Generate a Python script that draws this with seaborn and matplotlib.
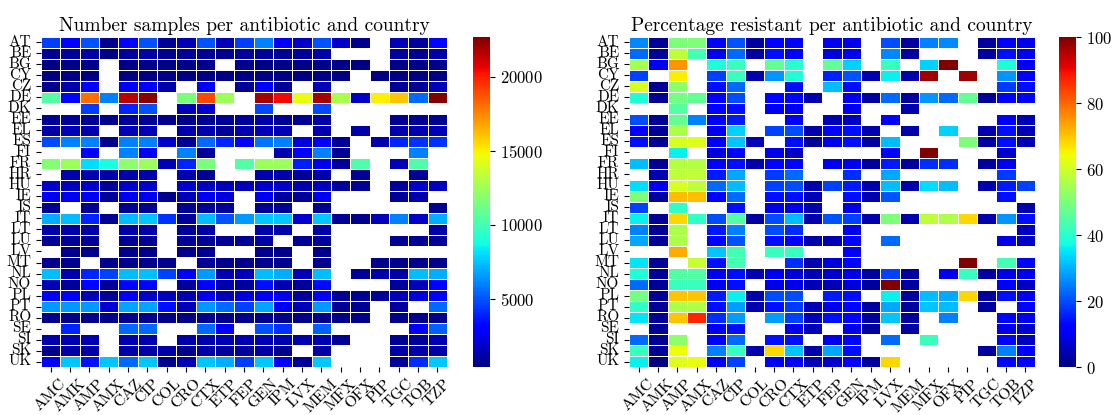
import numpy as np
import pandas as pd
import seaborn as sns
import matplotlib.pyplot as plt

nan = np.nan

countries = ['AT', 'BE', 'BG', 'CY', 'CZ', 'DE', 'DK', 'EE', 'EL', 'ES',
             'FI', 'FR', 'HR', 'HU', 'IE', 'IS', 'IT', 'LT', 'LU', 'LV',
             'MT', 'NL', 'NO', 'PL', 'PT', 'RO', 'SE', 'SI', 'SK', 'UK']
antibiotics = ['AMC', 'AMK', 'AMP', 'AMX', 'CAZ', 'CIP', 'COL', 'CRO', 'CTX', 'ETP', 'FEP',
               'GEN', 'IPM', 'LVX', 'MEM', 'MFX', 'OFX', 'PIP', 'TGC', 'TOB', 'TZP']

# number of samples, one row per country
n_samples = [
    [4500, 3000, 5000, 700, 3200, 5000, 800, 1500, 5000, 1500, 4500, 6000, 2700, 1800, 5000, 1800, 600, nan, 1500, 1000, 3300],
    [800, 1000, 1100, 500, 1000, 1100, 700, 900, 900, 700, 950, 1000, 900, 1000, 1200, nan, nan, nan, 1000, 800, 1200],
    [500, 600, 600, nan, 600, 700, 600, 600, 700, nan, 700, 600, 600, 600, 600, 600, 500, nan, 600, 600, 600],
    [400, 500, 500, nan, 500, 500, 500, 500, 500, 500, 500, 500, 500, 500, 500, 500, nan, 400, 500, 500, 500],
    [600, 1200, 2800, nan, 2800, 3000, 1200, nan, 2800, nan, 750, 3000, 800, nan, 1500, nan, nan, nan, 800, 800, 1500],
    [10500, 3300, 18000, 6000, 21500, 22500, nan, 11500, 19000, 12500, nan, 22000, 20500, 14500, 22000, 12800, 1800, 15000, 16000, 5500, 22700],
    [nan, nan, 4500, nan, 4000, 5000, nan, 1500, 2000, nan, nan, 4800, nan, nan, 4800, nan, nan, nan, nan, nan, nan],
    [800, 900, 800, 600, 1000, 1000, 600, 700, 900, 800, 1000, 1200, 800, 800, 1200, nan, nan, nan, 800, 800, 800],
    [1200, 1500, 1300, nan, 1500, 1500, nan, 1300, 1300, 900, 1300, 1500, 1500, nan, 1300, nan, 1200, nan, 1300, 1400, 1500],
    [4800, 6000, 6000, 700, 6000, 6000, 1800, 900, 5500, 4000, 3000, 5800, 6000, 2200, 2800, 900, nan, 1300, 4000, 4300, 4300],
    [nan, nan, 2800, nan, 6000, 2800, nan, 6000, 900, nan, nan, nan, 1300, 2800, 6000, 800, nan, nan, nan, 6000, nan],
    [11800, 12500, 8000, 8800, 12000, 12500, 1500, 4000, 11500, nan, 10500, 12500, 12500, 3800, 2500, 1000, 10300, nan, 1500, 10300, nan],
    [nan, 1300, 1300, 1200, 1300, 1300, nan, 1300, 900, nan, nan, 1300, 1300, 1000, 1300, nan, 800, nan, nan, 900, nan],
    [1800, 1700, 1800, 900, 1800, 1800, nan, 1800, 1700, 1500, 1500, 1800, 1800, 1300, 1700, 1000, 900, nan, 1000, 1800, 1700],
    [2600, 2600, 2700, 1000, 2600, 2600, 700, 1400, 2600, 2200, nan, 2600, 1000, 900, 2600, nan, nan, nan, 900, 1200, nan],
    [800, nan, 800, nan, 800, 800, nan, 800, 900, 900, nan, 800, 800, nan, 800, nan, nan, nan, nan, nan, 800],
    [7000, 7300, 4000, 800, 7300, 7500, 4300, 1000, 7300, 5000, 6500, 7600, 7600, 2000, 7600, 900, 700, 1600, 6000, 1800, 7000],
    [1200, 1200, 1200, nan, 1200, 1200, nan, 1000, 1100, nan, nan, 1200, 1200, nan, 1200, nan, nan, nan, nan, nan, 1200],
    [900, 900, 900, nan, 900, 900, nan, 900, 900, 900, 900, 1100, nan, 900, 1000, nan, nan, nan, 900, 900, 900],
    [nan, 700, 700, nan, 700, 700, nan, 700, 800, nan, nan, 700, 700, nan, 700, nan, nan, nan, nan, nan, nan],
    [700, 700, nan, 700, 700, 700, 700, nan, 800, 700, 700, 700, 700, nan, 700, nan, nan, 700, 700, 700, 700],
    [7300, 1300, 4000, 4600, 7300, 7400, 4600, 2700, 6500, 1400, 1600, 7300, 7000, 1600, 7300, nan, 900, 1200, 1200, 7300, 7000],
    [1500, 1000, 3300, 900, 3300, 3300, nan, 1000, 3000, 1300, 1000, 3500, 1400, 900, 3400, nan, nan, nan, 1000, 1600, 3000],
    [2700, 2700, 1600, 900, 2700, 1800, 1600, 1300, 2600, 1500, 2200, 2700, 2500, 1000, 2700, 800, 800, 900, 1500, 2200, 2800],
    [6500, 6500, 6500, 2000, 6800, 6800, 3500, 1500, 6500, 5500, 4600, 6800, 2600, 1500, 6500, 800, 800, nan, 1000, nan, 5500],
    [700, 650, 700, 600, 700, 700, 650, 650, 700, 600, 700, 700, 650, 650, 700, 600, 600, nan, 650, 700, 700],
    [nan, 4000, nan, nan, 5500, 5500, nan, nan, 5500, 2800, nan, 5000, 4300, nan, 5300, nan, nan, nan, nan, 2900, 5300],
    [1300, 1400, 1400, nan, 1400, 1400, nan, 1200, 1300, 1400, 1400, 1500, 1400, 1300, 1400, 900, nan, nan, 900, 1000, 1500],
    [600, 1100, 1100, nan, 1100, 1100, 1100, 700, 1100, 1000, 1000, 1100, 700, nan, 1100, nan, nan, nan, 1100, 1200, 1100],
    [2800, 7500, 3600, 7500, 5500, 7500, 700, 1500, 7500, 7000, 4500, 7600, 2800, 900, 7600, nan, nan, nan, 900, 4200, 7600],
]

# percentage resistant, one row per country
pct_resistant = [
    [26, 2, 50, 50, 12, 21, 3, 12, 12, nan, 10, 10, nan, 20, 3, 25, 26, nan, 3, 12, 10],
    [23, 2, 58, 43, 10, 23, 3, 14, 11, nan, 8, 10, nan, 26, 3, nan, nan, nan, 3, 14, 10],
    [55, 10, 75, nan, 39, 42, nan, 47, 40, nan, 47, 33, nan, 42, nan, 33, 100, nan, nan, 39, 10],
    [19, nan, 66, nan, 19, 42, 4, 27, 39, nan, 16, 21, 4, 36, 4, 97, nan, 97, nan, 27, 11],
    [61, 2, 52, nan, 14, 23, nan, nan, 14, nan, 31, 14, nan, nan, nan, nan, nan, nan, nan, 18, 14],
    [39, 2, 49, 47, 12, 20, nan, 13, 13, 4, nan, 10, 3, 23, 3, 27, 23, 47, 2, 12, 12],
    [nan, nan, 45, nan, 11, 14, nan, 10, 10, nan, nan, 10, nan, nan, 4, nan, nan, nan, nan, nan, nan],
    [20, 2, 47, 25, 11, 15, nan, nan, 12, nan, 5, 6, nan, 12, nan, nan, nan, nan, nan, 11, 5],
    [11, 2, 56, nan, 10, 33, nan, 19, 20, 4, 13, 14, 4, nan, 4, nan, 33, nan, 4, 14, 5],
    [14, 2, 61, 62, 11, 32, 5, nan, 14, 2, 10, 14, 3, 31, nan, nan, nan, 50, 3, 14, 5],
    [nan, nan, 36, nan, 8, 13, nan, 9, 6, nan, nan, nan, nan, 11, nan, 100, nan, nan, nan, 7, nan],
    [31, 2, 57, 57, 12, 14, 4, 13, 13, nan, 10, 10, 3, 15, 3, 17, 17, nan, 3, 10, nan],
    [nan, 4, 58, 58, 15, 29, nan, 18, 23, nan, nan, 17, nan, 29, nan, nan, nan, nan, nan, 18, nan],
    [34, 10, 61, 58, 23, 31, nan, 19, 20, 4, 19, 15, 4, 31, 4, 34, 31, nan, 4, 15, 19],
    [50, 3, 71, 71, 11, 23, nan, 14, 14, 5, nan, 14, 4, 21, nan, nan, nan, nan, nan, 14, nan],
    [19, nan, 41, nan, nan, 14, nan, 9, 9, 4, nan, 9, nan, nan, nan, nan, nan, nan, nan, nan, 4],
    [36, 2, 68, 41, 20, 45, 3, 20, 31, 4, 21, 19, 4, 50, 4, 58, 56, 68, 4, 27, 14],
    [25, 2, 56, nan, 15, 25, nan, 20, 17, nan, nan, 10, nan, nan, nan, nan, nan, nan, nan, nan, 6],
    [29, 2, 56, nan, 11, 21, nan, 14, 11, 4, 5, 13, nan, 23, nan, nan, nan, nan, nan, 9, 6],
    [nan, nan, 73, nan, 32, 43, nan, 42, 42, nan, nan, 12, nan, nan, nan, nan, nan, nan, nan, nan, nan],
    [35, 2, nan, 59, 14, 43, nan, nan, 17, 4, 8, 13, nan, nan, nan, nan, nan, 100, nan, 43, 13],
    [39, 2, 45, 45, 10, 14, 4, 10, 8, 5, 7, 9, 3, 19, 3, nan, 10, 42, 3, 9, 10],
    [23, 2, 42, 42, 10, 14, nan, 9, 9, 5, 5, 8, 3, 100, 3, nan, nan, nan, nan, 11, 6],
    [49, 2, 70, 70, 15, 36, 4, 20, 20, nan, 15, 14, nan, 36, 3, 31, 29, 68, 3, 14, 10],
    [41, 2, 56, 56, 14, 28, 4, 14, 18, 5, 10, 13, 3, 29, 3, 32, 31, nan, 3, nan, 13],
    [35, 2, 70, 87, 17, 28, nan, 28, 19, 5, 14, 13, 3, 32, 3, nan, 25, nan, nan, 13, 10],
    [nan, 2, nan, nan, 10, 14, nan, nan, 9, 5, nan, 9, 3, nan, 3, nan, nan, nan, nan, 9, 7],
    [23, 2, 52, nan, 11, 23, nan, 14, 14, nan, 10, 13, nan, 23, nan, 42, nan, nan, nan, 13, 6],
    [42, 2, 64, nan, 25, 42, 4, 68, 32, 4, 29, 14, nan, nan, nan, nan, nan, nan, 3, 25, 11],
    [36, 0, 62, 63, 10, 19, nan, 10, 12, 5, 7, 12, 3, 68, nan, nan, nan, nan, nan, 13, 13],
]

samples_df = pd.DataFrame(n_samples, index=countries, columns=antibiotics)
resistant_df = pd.DataFrame(pct_resistant, index=countries, columns=antibiotics)

# LaTeX-like look
plt.rcParams['font.family'] = 'cmr10'
plt.rcParams['axes.formatter.use_mathtext'] = True

W, H = 1116, 415
fig = plt.figure(figsize=(W / 100, H / 100), dpi=100)
ax1 = fig.add_axes([41 / W, 48 / H, 406 / W, 330 / H])
cax1 = fig.add_axes([473 / W, 48 / H, 17 / W, 330 / H])
ax2 = fig.add_axes([629 / W, 48 / H, 406 / W, 330 / H])
cax2 = fig.add_axes([1059 / W, 48 / H, 17 / W, 330 / H])

sns.heatmap(samples_df, cmap='jet', linewidths=0.5, linecolor='white',
            ax=ax1, cbar_ax=cax1, xticklabels=True, yticklabels=True,
            cbar_kws={'ticks': [5000, 10000, 15000, 20000]})
sns.heatmap(resistant_df, cmap='jet', vmin=0, vmax=100, linewidths=0.5, linecolor='white',
            ax=ax2, cbar_ax=cax2, xticklabels=True, yticklabels=True)

ax1.set_title('Number samples per antibiotic and country', fontsize=14, pad=4)
ax2.set_title('Percentage resistant per antibiotic and country', fontsize=14, pad=4)

for ax in (ax1, ax2):
    ax.set_xlabel('')
    ax.set_ylabel('')
    plt.setp(ax.get_xticklabels(), rotation=45, fontsize=11.5)
    plt.setp(ax.get_yticklabels(), rotation=0, fontsize=11)
for cax in (cax1, cax2):
    cax.tick_params(labelsize=12)

plt.savefig('out.png', dpi=100)
